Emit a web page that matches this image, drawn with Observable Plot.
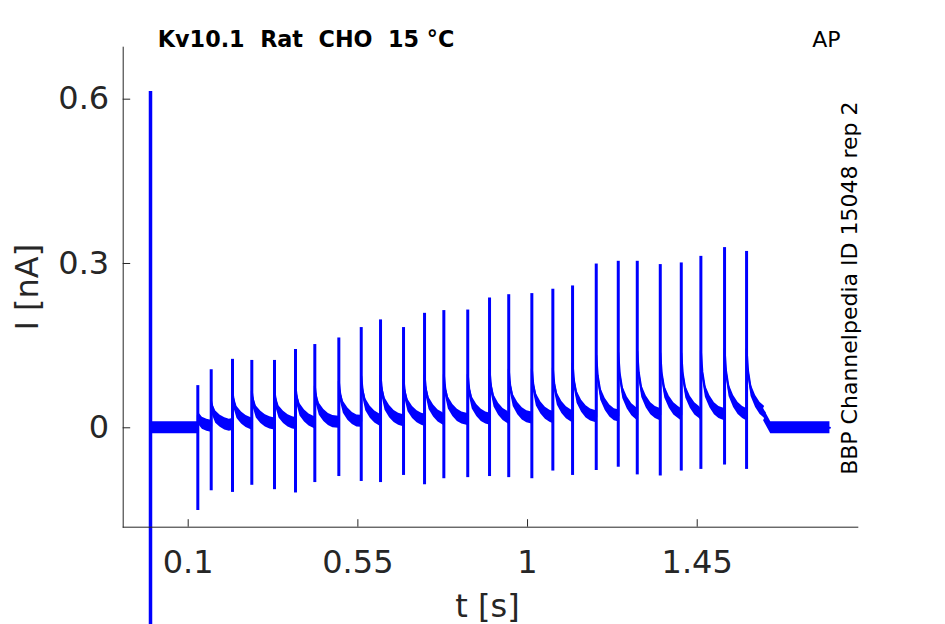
<!DOCTYPE html>
<html><head><meta charset="utf-8">
<script src="https://cdn.jsdelivr.net/npm/d3@7"></script>
<script src="https://cdn.jsdelivr.net/npm/@observablehq/plot@0.6"></script>
<style>body{margin:0;background:#fff;}</style>
</head><body><div id="chart"></div>
<script>
// tick values
const xTicks = [0.1, 0.55, 1, 1.45];
const yTicks = [0, 0.3, 0.6];

// spike times (s), peak and trough currents (nA)
const spikeT = [0.1255, 0.161, 0.2175, 0.2687, 0.3289, 0.3846, 0.4358, 0.4995, 0.5589, 0.6101,
  0.6711, 0.7268, 0.778, 0.8414, 0.8992, 0.9501, 1.0114, 1.0671, 1.1194, 1.1822,
  1.2406, 1.291, 1.352, 1.4077, 1.4597, 1.5225, 1.5809];
const spikePeak = [0.077, 0.106, 0.125, 0.123, 0.123, 0.143, 0.152, 0.164, 0.183, 0.197,
  0.183, 0.209, 0.214, 0.215, 0.237, 0.243, 0.245, 0.253, 0.259, 0.299,
  0.304, 0.304, 0.298, 0.301, 0.313, 0.329, 0.322];
const spikeTrough = [-0.151, -0.115, -0.118, -0.105, -0.113, -0.119, -0.100, -0.089, -0.098, -0.100,
  -0.087, -0.104, -0.093, -0.091, -0.089, -0.091, -0.093, -0.079, -0.087, -0.078,
  -0.072, -0.086, -0.088, -0.079, -0.076, -0.068, -0.076];
// baseline level just before each spike (nA)
const spikeBase = [0.0, 0.003, 0.006, 0.007, 0.007, 0.008, 0.009, 0.010, 0.012, 0.013,
  0.013, 0.014, 0.015, 0.015, 0.016, 0.017, 0.018, 0.019, 0.020, 0.020,
  0.022, 0.024, 0.024, 0.024, 0.024, 0.024, 0.024];
// tail height above baseline ~4 ms after each spike (nA)
const tailAmp = [0.015, 0.03, 0.04, 0.04, 0.04, 0.045, 0.045, 0.05, 0.055, 0.055,
  0.05, 0.055, 0.055, 0.055, 0.06, 0.06, 0.06, 0.06, 0.065, 0.075,
  0.077, 0.077, 0.075, 0.075, 0.078, 0.08, 0.08];
// tail decay shape (time after spike, fraction of tail height)
const tailDt = [0, 0.004, 0.012, 0.024, 0.036, 0.048];
const tailFrac = [1.5, 1, 0.55, 0.3, 0.14, 0.05];
// start of trace and end of stimulation
const traceStartT = [0];
const traceStartV = [0.0];
const traceEndT = [1.626, 1.645, 1.802];
const traceEndV = [0.024, 0.0, 0.0];
// noise band half width (nA)
const noiseHalf = 0.011;
// stimulus artefact at t = 0
const stimT = [0];
const stimTop = [0.614];
const stimBottom = [-0.45];

const trace = [];
traceStartT.forEach((t, i) => trace.push({t, v: traceStartV[i]}));
spikeT.forEach((t, i) => {
  trace.push({t, v: spikeBase[i]});
  const next = i + 1 < spikeT.length ? spikeT[i + 1] : Infinity;
  tailDt.forEach((dt, j) => {
    if (t + dt < next - 0.002) trace.push({t: t + dt, v: spikeBase[i] + tailFrac[j] * tailAmp[i]});
  });
});
traceEndT.forEach((t, i) => trace.push({t, v: traceEndV[i]}));

const spikes = spikeT.map((t, i) => ({t, peak: spikePeak[i], trough: spikeTrough[i]}));
const stim = stimT.map((t, i) => ({t, top: stimTop[i], bottom: stimBottom[i]}));

const blue = "#0000ff";
const axisColor = "#262626";

const chart = Plot.plot({
  width: 945,
  height: 624,
  marginLeft: 122.7,
  marginRight: 87.7,
  marginTop: 46.7,
  marginBottom: 97.3,
  x: {domain: [-0.0724, 1.8759]},
  y: {domain: [-0.1815, 0.6949]},
  style: {fontFamily: "DejaVu Sans", color: axisColor, background: "#fff"},
  marks: [
    Plot.areaY(trace, {x: "t", y1: d => d.v - noiseHalf, y2: d => d.v + noiseHalf, fill: blue}),
    Plot.line(trace, {x: "t", y: "v", stroke: blue, strokeWidth: 2}),
    Plot.ruleX(spikes, {x: "t", y1: "trough", y2: "peak", stroke: blue, strokeWidth: 3}),
    Plot.ruleX(stim, {x: "t", y1: "bottom", y2: "top", stroke: blue, strokeWidth: 3.5, clip: false}),
    Plot.frame({anchor: "left", stroke: axisColor}),
    Plot.frame({anchor: "bottom", stroke: axisColor}),
    Plot.axisX({ticks: xTicks, tickSize: -7.5, tickFormat: () => "", label: null, stroke: axisColor}),
    Plot.axisX({ticks: xTicks, tickSize: 0, tickPadding: 23, fontSize: 32, tickFormat: d => String(d), label: null, fill: axisColor}),
    Plot.axisY({ticks: yTicks, tickSize: -7.5, tickFormat: () => "", label: null, stroke: axisColor}),
    Plot.axisY({ticks: yTicks, tickSize: 0, tickPadding: 14, fontSize: 32, tickFormat: d => String(d), label: null, fill: axisColor}),
    Plot.text(["I [nA]"], {text: d => d, frameAnchor: "left", dx: -85.4, rotate: -90, textAnchor: "middle", lineAnchor: "bottom", fontSize: 32, fill: axisColor}),
    Plot.text(["t [s]"], {text: d => d, frameAnchor: "bottom", dx: -3, dy: 89.3, textAnchor: "middle", lineAnchor: "bottom", fontSize: 32, fill: axisColor}),
    Plot.text(["Kv10.1  Rat  CHO  15 °C"], {text: d => d, frameAnchor: "top-left", dx: 34.6, dy: 0, textAnchor: "start", lineAnchor: "bottom", fontSize: 22.3, fontWeight: "bold", fill: "#000"}),
    Plot.text(["AP"], {text: d => d, frameAnchor: "top-right", dx: -17.3, dy: 0, textAnchor: "end", lineAnchor: "bottom", fontSize: 22, fill: "#000"}),
    Plot.text(["BBP Channelpedia ID 15048 rep 2"], {text: d => d, frameAnchor: "right", dx: -0.6, dy: 1, rotate: -90, textAnchor: "middle", lineAnchor: "bottom", fontSize: 22, fill: "#000"})
  ]
});
document.getElementById("chart").appendChild(chart);
</script>
</body></html>
